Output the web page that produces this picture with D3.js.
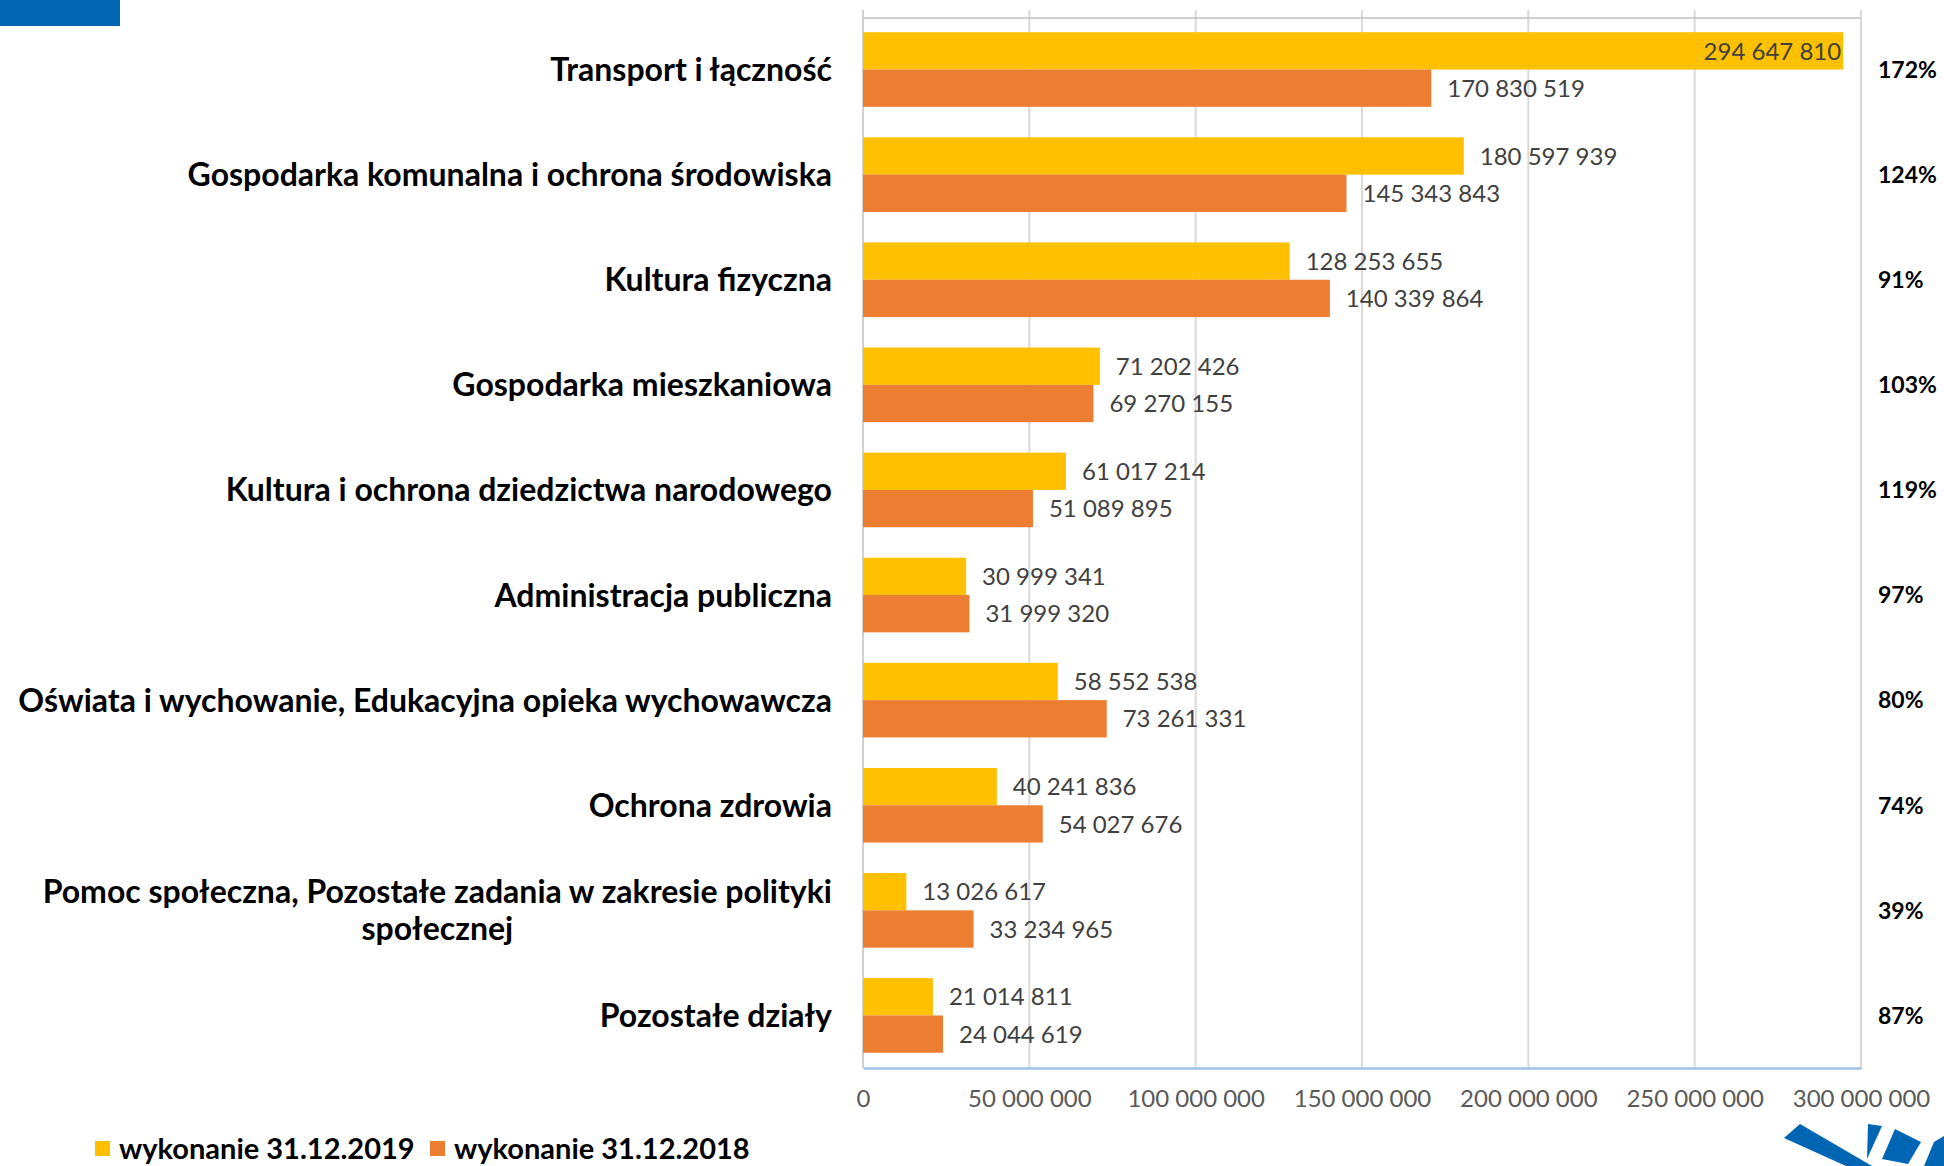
<!DOCTYPE html>
<html lang="pl">
<head>
<meta charset="UTF-8">
<title>Wydatki majątkowe</title>
<script src="https://d3js.org/d3.v7.min.js"></script>
<style>
  body { margin: 0; background: #fff; }
  svg { display: block; font-family: Lato, "Open Sans", sans-serif; }
  .cat { font-weight: bold; font-size: 32px; fill: #000; }
  .pct { font-weight: bold; font-size: 23px; fill: #000; }
  .val { font-size: 24px; fill: #404040; }
  .tick text { font-size: 24px; fill: #595959; }
  .legend { font-weight: bold; font-size: 29px; fill: #000; }
</style>
</head>
<body>
<svg id="chart" width="1944" height="1166"></svg>
<script>
// data
const categories = [
  "Transport i łączność",
  "Gospodarka komunalna i ochrona środowiska",
  "Kultura fizyczna",
  "Gospodarka mieszkaniowa",
  "Kultura i ochrona dziedzictwa narodowego",
  "Administracja publiczna",
  "Oświata i wychowanie, Edukacyjna opieka wychowawcza",
  "Ochrona zdrowia",
  "Pomoc społeczna, Pozostałe zadania w zakresie polityki|społecznej",
  "Pozostałe działy"
];
const wyk2019 = [294647810, 180597939, 128253655, 71202426, 61017214, 30999341, 58552538, 40241836, 13026617, 21014811];
const wyk2018 = [170830519, 145343843, 140339864, 69270155, 51089895, 31999320, 73261331, 54027676, 33234965, 24044619];
const percents = ["172%", "124%", "91%", "103%", "119%", "97%", "80%", "74%", "39%", "87%"];
const xTicks = [0, 50000000, 100000000, 150000000, 200000000, 250000000, 300000000];
const seriesNames = ["wykonanie 31.12.2019", "wykonanie 31.12.2018"];
const colors = ["#FFC000", "#ED7D31"];

const svg = d3.select("#chart");
const fmt = v => d3.format(",")(v).replace(/,/g, " ");

const x = d3.scaleLinear().domain([0, 300000000]).range([863, 1861]);
const y = d3.scaleBand().domain(d3.range(categories.length)).range([17, 1068])
  .paddingInner(0.29).paddingOuter(0.145);
const ys = d3.scaleBand().domain([0, 1]).range([0, y.bandwidth()]);

// corner blue block
svg.append("rect").attr("x", 0).attr("y", 0).attr("width", 120).attr("height", 26).attr("fill", "#0066B3");

// gridlines
svg.append("g").selectAll("line").data(xTicks.slice(1)).join("line")
  .attr("x1", d => x(d)).attr("x2", d => x(d))
  .attr("y1", 10).attr("y2", 1068)
  .attr("stroke", "#d9d9d9").attr("stroke-width", 2);

// top line and left axis
svg.append("line").attr("x1", x(0)).attr("x2", x(300000000)).attr("y1", 18).attr("y2", 18)
  .attr("stroke", "#bfbfbf").attr("stroke-width", 1.5);
svg.append("line").attr("x1", x(0)).attr("x2", x(0)).attr("y1", 10).attr("y2", 1068)
  .attr("stroke", "#d0d0d0").attr("stroke-width", 2);

// bottom axis
const xAxis = d3.axisBottom(x).tickValues(xTicks).tickFormat(fmt).tickSize(0).tickPadding(22);
const gx = svg.append("g").attr("class", "axis").attr("transform", "translate(0,1068)").call(xAxis);
gx.select(".domain").attr("stroke", "#9dc3e6").attr("stroke-width", 2.5);
gx.selectAll("text").attr("font-family", "Lato");

// bars
const rows = categories.map((c, i) => ({ i, vals: [wyk2019[i], wyk2018[i]] }));
const grp = svg.append("g").selectAll("g").data(rows).join("g")
  .attr("transform", d => `translate(0,${y(d.i)})`);

grp.selectAll("rect").data(d => d.vals.map((v, s) => ({ v, s }))).join("rect")
  .attr("x", x(0)).attr("y", d => ys(d.s))
  .attr("width", d => x(d.v) - x(0)).attr("height", ys.bandwidth())
  .attr("fill", d => colors[d.s]);

grp.selectAll("text.val").data(d => d.vals.map((v, s) => ({ v, s }))).join("text")
  .attr("class", "val")
  .attr("x", d => x(d.v) > 1700 ? x(d.v) - 2 : x(d.v) + 16)
  .attr("text-anchor", d => x(d.v) > 1700 ? "end" : "start")
  .attr("y", d => ys(d.s) + ys.bandwidth() / 2)
  .attr("dy", "0.36em")
  .text(d => fmt(d.v));

// category labels
rows.forEach(d => {
  const lines = categories[d.i].split("|");
  const cy = y(d.i) + y.bandwidth() / 2;
  const t = svg.append("text").attr("class", "cat")
    .attr("text-anchor", lines.length > 1 ? "middle" : "end");
  if (lines.length === 1) {
    t.attr("x", 832).attr("y", cy).attr("dy", "0.36em").text(lines[0]);
  } else {
    // measure first line so the block stays right-aligned
    const tmp = svg.append("text").attr("class", "cat").text(lines[0]);
    const w = tmp.node().getComputedTextLength();
    tmp.remove();
    const cx = 832 - w / 2;
    lines.forEach((ln, k) => {
      t.append("tspan").attr("x", cx).attr("y", cy + (k - (lines.length - 1) / 2) * 37)
        .attr("dy", "0.36em").text(ln);
    });
  }
});

// percentages
svg.append("g").selectAll("text").data(percents).join("text")
  .attr("class", "pct")
  .attr("x", 1878)
  .attr("y", (d, i) => y(i) + y.bandwidth() / 2)
  .attr("dy", "0.36em")
  .text(d => d);

// legend
const legX = [95, 430];
const lg = svg.append("g").selectAll("g").data(seriesNames).join("g")
  .attr("transform", (d, i) => `translate(${legX[i]},1141)`);
lg.append("rect").attr("width", 15).attr("height", 15).attr("fill", (d, i) => colors[i]);
lg.append("text").attr("class", "legend").attr("x", 24).attr("y", 18).text(d => d);

// logo fragment bottom right
const logo = [
  [[1784, 1138], [1800, 1124], [1872, 1166], [1846, 1166]],
  [[1868, 1124], [1882, 1126], [1867, 1159]],
  [[1895, 1129], [1921, 1142], [1908, 1164], [1882, 1159]],
  [[1934, 1142], [1944, 1136], [1944, 1166], [1924, 1166]]
];
svg.append("g").selectAll("path").data(logo).join("path")
  .attr("d", d => "M" + d.join("L") + "Z")
  .attr("fill", "#0066B3");
</script>
</body>
</html>
